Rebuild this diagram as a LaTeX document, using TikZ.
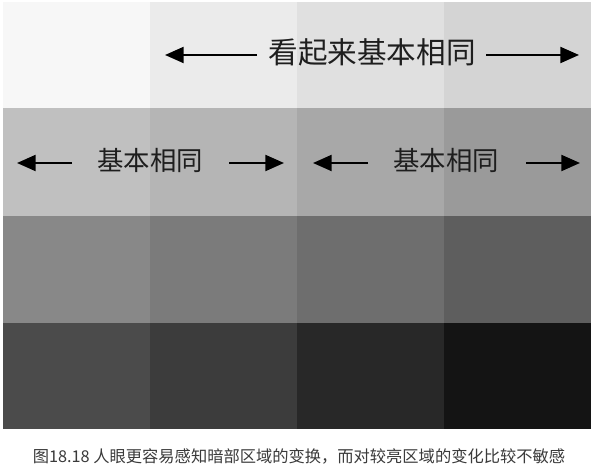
\documentclass[tikz,border=0pt]{standalone}
\usepackage{fontspec}
\newfontfamily\cjk{Noto Sans CJK SC}
\usetikzlibrary{arrows.meta}
\definecolor{grayA}{HTML}{F7F7F7}
\definecolor{grayB}{HTML}{EBEBEB}
\definecolor{grayC}{HTML}{E0E0E0}
\definecolor{grayD}{HTML}{D4D4D4}
\definecolor{grayE}{HTML}{C0C0C0}
\definecolor{grayF}{HTML}{B5B5B5}
\definecolor{grayG}{HTML}{A8A8A8}
\definecolor{grayH}{HTML}{9A9A9A}
\definecolor{grayI}{HTML}{888888}
\definecolor{grayJ}{HTML}{7B7B7B}
\definecolor{grayK}{HTML}{6E6E6E}
\definecolor{grayL}{HTML}{5E5E5E}
\definecolor{grayM}{HTML}{4B4B4B}
\definecolor{grayN}{HTML}{3C3C3C}
\definecolor{grayO}{HTML}{282828}
\definecolor{grayP}{HTML}{141414}
\definecolor{txtcol}{HTML}{1E1E1E}
\definecolor{captxtcol}{HTML}{3A3A3A}
\begin{document}
\begin{tikzpicture}[x=0.75pt,y=-0.75pt,
  bigtxt/.style={font=\cjk\fontsize{22.2pt}{26pt}\selectfont, text=txtcol, inner sep=0pt},
  midtxt/.style={font=\cjk\fontsize{19.8pt}{24pt}\selectfont, text=txtcol, inner sep=0pt},
  captext/.style={font=\cjk\fontsize{12.2pt}{15pt}\selectfont, text=captxtcol, inner sep=0pt},
  arr/.style={-{Triangle[length=14pt,width=12pt]}, line width=1.5pt, black}]
\useasboundingbox (0,0) rectangle (596,470);
\fill[white] (0,0) rectangle (596,470);
% row 1
\fill[grayA] (3,2) rectangle (150,108);
\fill[grayB] (150,2) rectangle (297,108);
\fill[grayC] (297,2) rectangle (444,108);
\fill[grayD] (444,2) rectangle (591,108);
% row 2
\fill[grayE] (3,108) rectangle (150,216.5);
\fill[grayF] (150,108) rectangle (297,216.5);
\fill[grayG] (297,108) rectangle (444,216.5);
\fill[grayH] (444,108) rectangle (591,216.5);
% row 3
\fill[grayI] (3,216.5) rectangle (150,322.5);
\fill[grayJ] (150,216.5) rectangle (297,322.5);
\fill[grayK] (297,216.5) rectangle (444,322.5);
\fill[grayL] (444,216.5) rectangle (591,322.5);
% row 4
\fill[grayM] (3,322.5) rectangle (150,429);
\fill[grayN] (150,322.5) rectangle (297,429);
\fill[grayO] (297,322.5) rectangle (444,429);
\fill[grayP] (444,322.5) rectangle (591,429);

% top label
\node[bigtxt] (top) at (372,52) {看起来基本相同};
\coordinate (topL) at (165,55);
\coordinate (topLs) at (257,55);
\coordinate (topRs) at (486,55);
\coordinate (topR) at (579,55);
\draw[arr] (topLs) -- (topL);
\draw[arr] (topRs) -- (topR);

% second row labels
\node[midtxt] (lft) at (150,160) {基本相同};
\coordinate (lL) at (17,163);
\coordinate (lLs) at (72,163);
\coordinate (lRs) at (229,163);
\coordinate (lR) at (284,163);
\draw[arr] (lLs) -- (lL);
\draw[arr] (lRs) -- (lR);

\node[midtxt] (rgt) at (446,160) {基本相同};
\coordinate (rL) at (313,163);
\coordinate (rLs) at (368,163);
\coordinate (rRs) at (526,163);
\coordinate (rR) at (580,163);
\draw[arr] (rLs) -- (rL);
\draw[arr] (rRs) -- (rR);

% caption
\node[captext] (cap) at (299,456) {图18.18 人眼更容易感知暗部区域的变换，而对较亮区域的变化比较不敏感};
\end{tikzpicture}
\end{document}
